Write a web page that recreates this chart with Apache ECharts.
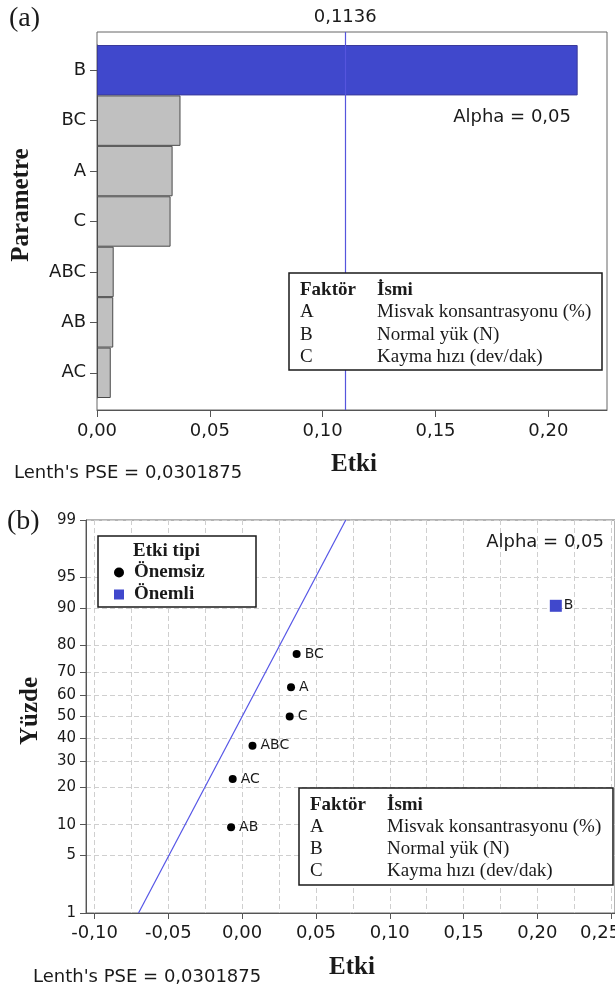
<!DOCTYPE html>
<html>
<head>
<meta charset="utf-8">
<script src="https://cdn.jsdelivr.net/npm/echarts@6/dist/echarts.min.js"></script>
<style>
html, body { margin: 0; padding: 0; background: #fff; }
#ct1 { width: 615px; height: 991px; }
</style>
</head>
<body>
<div id="ct1"></div>
<script>
// pareto (a)
var paretoNames = ['B', 'BC', 'A', 'C', 'ABC', 'AB', 'AC'];
var paretoValues = [0.213, 0.0370, 0.0335, 0.0326, 0.0074, 0.0072, 0.0061];
var critValue = 0.1136;

// normal plot (b)
var effNames = ['AB', 'AC', 'ABC', 'C', 'A', 'BC', 'B'];
var effValues = [-0.0075, -0.0064, 0.0070, 0.0322, 0.0331, 0.0369, 0.2125];
var effPercent = [9.5, 23.0, 36.5, 50.0, 63.5, 77.0, 90.5];
var effSignificant = [false, false, false, false, false, false, true];
var fitLineX = [-0.0702, 0.0702];
var fitLineP = [1, 99];

var percentTicks = [1, 5, 10, 20, 30, 40, 50, 60, 70, 80, 90, 95, 99];
var xTicksB = [-0.10, -0.05, 0.00, 0.05, 0.10, 0.15, 0.20, 0.25];
var xGridB = [-0.100, -0.075, -0.050, -0.025, 0.000, 0.025, 0.050, 0.075, 0.100,
	0.125, 0.150, 0.175, 0.200, 0.225, 0.250];

var factorRows = [
	['A', 'Misvak konsantrasyonu (%)'],
	['B', 'Normal yük (N)'],
	['C', 'Kayma hızı (dev/dak)']
];

var SANS = '"DejaVu Sans", sans-serif';
var SERIF = '"Liberation Serif", "Times New Roman", serif';
var BLUE = '#4048cc';

// inverse normal cdf (Acklam)
function probit(p) {
	var a = [-3.969683028665376e+01, 2.209460984245205e+02, -2.759285104469687e+02, 1.383577518672690e+02, -3.066479806614716e+01, 2.506628277459239e+00];
	var b = [-5.447609879822406e+01, 1.615858368580409e+02, -1.556989798598866e+02, 6.680131188771972e+01, -1.328068155288572e+01];
	var c = [-7.784894002430293e-03, -3.223964580411365e-01, -2.400758277161838e+00, -2.549732539343734e+00, 4.374664141464968e+00, 2.938163982698783e+00];
	var d = [7.784695709041462e-03, 3.224671290700398e-01, 2.445134137142996e+00, 3.754408661907416e+00];
	var pl = 0.02425, q, r;
	if (p < pl) {
		q = Math.sqrt(-2 * Math.log(p));
		return (((((c[0] * q + c[1]) * q + c[2]) * q + c[3]) * q + c[4]) * q + c[5]) / ((((d[0] * q + d[1]) * q + d[2]) * q + d[3]) * q + 1);
	}
	if (p > 1 - pl) {
		q = Math.sqrt(-2 * Math.log(1 - p));
		return -(((((c[0] * q + c[1]) * q + c[2]) * q + c[3]) * q + c[4]) * q + c[5]) / ((((d[0] * q + d[1]) * q + d[2]) * q + d[3]) * q + 1);
	}
	q = p - 0.5;
	r = q * q;
	return (((((a[0] * r + a[1]) * r + a[2]) * r + a[3]) * r + a[4]) * r + a[5]) * q / (((((b[0] * r + b[1]) * r + b[2]) * r + b[3]) * r + b[4]) * r + 1);
}

function fmt2(v) {
	return v.toFixed(2).replace('.', ',');
}

var zTicks = percentTicks.map(function(p) { return probit(p / 100); });

var barData = [];
for (var i = 0; i < paretoNames.length; i++) {
	barData.push({
		value: paretoValues[i],
		itemStyle: {
			color: i == 0 ? BLUE : '#c0c0c0',
			borderColor: i == 0 ? '#3a3a9a' : '#4a4a4a'
		}
	});
}

var smallData = [], bigData = [];
for (var i = 0; i < effNames.length; i++) {
	var pt = [effValues[i], probit(effPercent[i] / 100), effNames[i]];
	if (effSignificant[i]) {
		bigData.push(pt);
	} else {
		smallData.push(pt);
	}
}
var fitData = [];
for (var i = 0; i < fitLineX.length; i++) {
	fitData.push([fitLineX[i], probit(fitLineP[i] / 100)]);
}

function txt(x, y, text, font, align, extra) {
	var el = {
		type: 'text',
		x: x,
		y: y,
		z: 20,
		style: {
			text: text,
			font: font,
			fill: '#1a1a1a',
			textAlign: align || 'left',
			textVerticalAlign: 'middle'
		}
	};
	if (extra) {
		for (var k in extra) el[k] = extra[k];
	}
	return el;
}

function factorTable(x, y, w, h, rowH) {
	var els = [{
		type: 'rect', z: 15,
		shape: { x: x, y: y, width: w, height: h },
		style: { fill: '#fff', stroke: '#1a1a1a', lineWidth: 1.5 }
	}];
	els.push(txt(x + 11, y + 17, 'Faktör', 'bold 19px ' + SERIF));
	els.push(txt(x + 88, y + 17, 'İsmi', 'bold 19px ' + SERIF));
	for (var i = 0; i < factorRows.length; i++) {
		els.push(txt(x + 11, y + 17 + rowH * (i + 1), factorRows[i][0], '19px ' + SERIF));
		els.push(txt(x + 88, y + 17 + rowH * (i + 1), factorRows[i][1], '19px ' + SERIF));
	}
	return els;
}

var graphics = [];
graphics.push(txt(9, 19, '(a)', '28px ' + SERIF));
graphics.push(txt(7, 522, '(b)', '28px ' + SERIF));
graphics.push(txt(22, 205, 'Parametre', 'bold 25px ' + SERIF, 'center', { rotation: Math.PI / 2 }));
graphics.push(txt(354, 465, 'Etki', 'bold 25px ' + SERIF, 'center'));
graphics.push(txt(14, 473, "Lenth's PSE = 0,0301875", '18px ' + SANS));
graphics.push(txt(571, 117, 'Alpha = 0,05', '18px ' + SANS, 'right'));
graphics.push(txt(31, 711, 'Yüzde', 'bold 25px ' + SERIF, 'center', { rotation: Math.PI / 2 }));
graphics.push(txt(352, 968, 'Etki', 'bold 25px ' + SERIF, 'center'));
graphics.push(txt(33, 977, "Lenth's PSE = 0,0301875", '18px ' + SANS));
graphics.push(txt(604, 542, 'Alpha = 0,05', '18px ' + SANS, 'right'));
graphics.push({
	type: 'rect', z: 15,
	shape: { x: 98, y: 536, width: 158, height: 71 },
	style: { fill: '#fff', stroke: '#1a1a1a', lineWidth: 1.5 }
});
graphics.push(txt(133, 551, 'Etki tipi', 'bold 19px ' + SERIF));
graphics = graphics.concat(factorTable(289, 273, 313, 97, 22.3));
graphics = graphics.concat(factorTable(299, 788, 314, 97, 22));

var option = {
	animation: false,
	backgroundColor: '#fff',
	grid: [
		{ left: 97, right: 8, top: 32, height: 378, show: true, borderColor: '#666', borderWidth: 1, outerBoundsMode: 'none' },
		{ left: 97, right: 8, top: 45, height: 353, outerBoundsMode: 'none' },
		{ left: 86, right: 0, top: 520, height: 393, show: true, borderColor: '#666', borderWidth: 1, outerBoundsMode: 'none' }
	],
	xAxis: [{
		gridIndex: 0, type: 'value', min: 0, max: 0.226, interval: 0.05,
		axisLine: { show: true, lineStyle: { color: '#555' } },
		axisTick: { show: true, length: 7, lineStyle: { color: '#555' } },
		axisLabel: { formatter: fmt2, margin: 12, showMaxLabel: false, color: '#1a1a1a', fontFamily: SANS, fontSize: 18 },
		splitLine: { show: false }
	}, {
		gridIndex: 1, type: 'value', min: 0, max: 0.226, show: false
	}, {
		gridIndex: 2, type: 'value', min: -0.1058, max: 0.2526,
		axisLine: { show: true, onZero: false, lineStyle: { color: '#555' } },
		axisTick: { show: false, customValues: xGridB },
		axisLabel: { show: false },
		splitLine: { show: true, lineStyle: { color: '#cfcfcf', type: [5, 3] } }
	}, {
		gridIndex: 2, type: 'value', min: -0.1058, max: 0.2526, position: 'bottom',
		axisLine: { show: false, onZero: false },
		axisTick: { show: true, length: 6, customValues: xTicksB, lineStyle: { color: '#555' } },
		axisLabel: {
			customValues: xTicksB, margin: 11, color: '#1a1a1a', fontFamily: SANS, fontSize: 18,
			formatter: function(v) {
				// last label sits a bit left of its tick in the original
				if (v > 0.24) return '{s|' + fmt2(v) + '}';
				return fmt2(v);
			},
			rich: { s: { padding: [0, 22, 0, 0], color: '#1a1a1a', fontFamily: SANS, fontSize: 18 } }
		},
		splitLine: { show: false }
	}],
	yAxis: [{
		gridIndex: 0, type: 'value', min: 0, max: 1, show: false
	}, {
		gridIndex: 1, type: 'category', data: paretoNames, inverse: true,
		axisLine: { show: true, lineStyle: { color: '#555' } },
		axisTick: { show: true, alignWithLabel: true, length: 7, lineStyle: { color: '#555' } },
		axisLabel: { margin: 11, color: '#1a1a1a', fontFamily: SANS, fontSize: 18 }
	}, {
		gridIndex: 2, type: 'value', min: zTicks[0], max: zTicks[zTicks.length - 1],
		axisLine: { show: true, onZero: false, lineStyle: { color: '#555' } },
		axisTick: { show: true, length: 6, customValues: zTicks, lineStyle: { color: '#555' } },
		axisLabel: {
			customValues: zTicks, margin: 10, color: '#1a1a1a', fontFamily: SANS, fontSize: 15,
			formatter: function(v) {
				for (var i = 0; i < zTicks.length; i++) {
					if (Math.abs(zTicks[i] - v) < 1e-6) return String(percentTicks[i]);
				}
				return '';
			}
		},
		splitLine: { show: true, lineStyle: { color: '#cfcfcf', type: [5, 3] } }
	}],
	legend: {
		data: [{ name: 'Önemsiz', icon: 'circle' }, { name: 'Önemli', icon: 'rect' }],
		orient: 'vertical', left: 109, top: 558, z: 30,
		itemWidth: 10, itemHeight: 10, itemGap: 3,
		itemStyle: { opacity: 1 },
		textStyle: { fontFamily: SERIF, fontWeight: 'bold', fontSize: 19, color: '#1a1a1a', padding: [0, 0, 0, 5] }
	},
	graphic: graphics,
	series: [{
		type: 'bar', xAxisIndex: 1, yAxisIndex: 1,
		barWidth: '100%',
		itemStyle: { borderWidth: 1 },
		data: barData
	}, {
		type: 'line', xAxisIndex: 0, yAxisIndex: 0, data: [],
		markLine: {
			silent: true, symbol: 'none', animation: false,
			lineStyle: { color: '#5555dd', width: 1.2, type: 'solid' },
			label: { show: true, position: 'end', formatter: '0,1136', color: '#1a1a1a', fontFamily: SANS, fontSize: 18, distance: 6 },
			data: [{ xAxis: critValue }]
		}
	}, {
		name: 'fit', type: 'line', xAxisIndex: 2, yAxisIndex: 2,
		showSymbol: false, silent: true,
		lineStyle: { color: '#5555e6', width: 1.2 },
		data: fitData
	}, {
		name: 'Önemsiz', type: 'scatter', xAxisIndex: 2, yAxisIndex: 2,
		symbol: 'circle', symbolSize: 8,
		itemStyle: { color: '#000', opacity: 1 },
		label: { show: true, position: 'right', distance: 4, formatter: function(p) { return p.data[2]; },
			color: '#1a1a1a', fontFamily: SANS, fontSize: 14 },
		data: smallData
	}, {
		name: 'Önemli', type: 'scatter', xAxisIndex: 2, yAxisIndex: 2,
		symbol: 'rect', symbolSize: 12,
		itemStyle: { color: BLUE, opacity: 1 },
		label: { show: true, position: 'right', distance: 2, formatter: function(p) { return p.data[2]; },
			color: '#1a1a1a', fontFamily: SANS, fontSize: 14 },
		data: bigData
	}]
};

var myChart1 = echarts.init(document.getElementById('ct1'));
myChart1.setOption(option, true);
</script>
</body>
</html>
